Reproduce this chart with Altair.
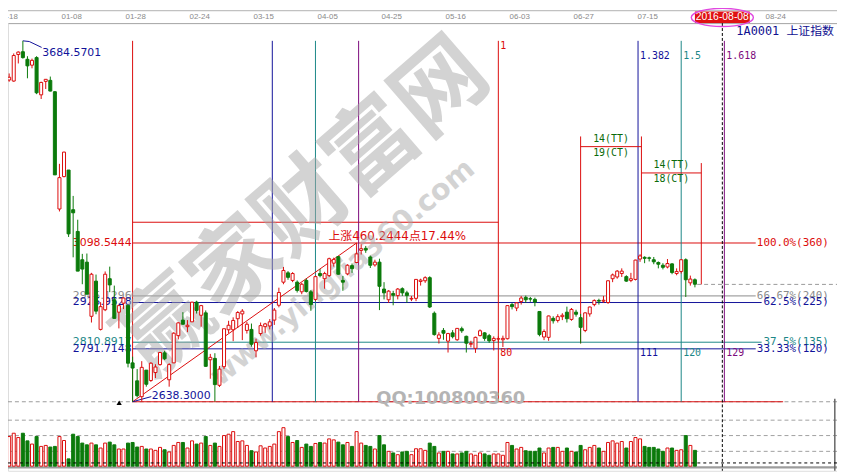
import json
import altair as alt
import pandas as pd

# ---------------- values (SSE index, daily bars) ----------------
opens = [3571, 3568, 3645, 3653, 3631, 3614, 3636, 3528, 3567, 3570,
         3537, 3197, 3291, 3310, 3195, 3132, 3050, 3043, 2886, 2988,
         2848, 2905, 2995, 2934, 2898, 2924, 2918, 2751, 2699, 2653,
         2730, 2700, 2723, 2746, 2780, 2702, 2751, 2830, 2875, 2856,
         2870, 2927, 2889, 2896, 2760, 2764, 2686, 2740, 2847, 2847,
         2879, 2893, 2845, 2848, 2786, 2836, 2856, 2858, 2875, 2918,
         2985, 3012, 2990, 2985, 2957, 2990, 2957, 2935, 3010, 2995,
         3004, 3040, 3059, 2990, 3009, 3033, 3042, 3077, 3083, 3058,
         3035, 3043, 2965, 2934, 2952, 2946, 2966, 2954, 2936, 2938,
         2987, 2989, 2998, 2895, 2822, 2845, 2814, 2838, 2818, 2850,
         2828, 2805, 2793, 2830, 2838, 2830, 2816, 2820, 2818, 2821,
         2920, 2910, 2929, 2941, 2937, 2935, 2900, 2826, 2825, 2880,
         2874, 2885, 2898, 2877, 2898, 2882, 2845, 2893, 2920, 2932,
         2930, 2926, 2995, 3000, 3010, 3001, 2990, 2993, 3052, 3057,
         3055.5, 3050, 3042, 3034, 3029, 3038, 3010, 3016, 3050, 2983,
         2992]
highs = [3590, 3648, 3654, 3684.57, 3640, 3633, 3640, 3566, 3573, 3581,
         3539, 3328, 3363, 3310, 3235, 3166, 3067, 3068, 3012, 3007,
         2927, 3016, 3030, 2975, 2917, 2941, 2918, 2769, 2733, 2756,
         2730, 2753, 2747, 2783, 2786, 2750, 2840, 2869, 2898, 2875,
         2928, 2931, 2919, 2903, 2777, 2779, 2742, 2850, 2873, 2883,
         2901, 2907, 2870, 2865, 2821, 2868, 2867, 2878, 2910, 2969,
         3029, 3017, 3014, 2990, 2983, 2995, 2962, 3004, 3023, 3015,
         3056, 3056, 3061, 3003, 3037, 3039, 3098.54, 3095, 3090, 3062,
         3050, 3053, 2985, 2962, 2960, 2968, 2970, 2960, 2945, 2993,
         2995, 3002, 3002, 2900, 2840, 2852, 2838, 2846, 2852, 2856,
         2830, 2815, 2827, 2848, 2840, 2835, 2828, 2828, 2830, 2917,
         2925, 2927, 2945, 2946, 2942, 2940, 2900, 2848, 2888, 2886,
         2892, 2895, 2914, 2910, 2905, 2893, 2897, 2914, 2935, 2937,
         2945, 2990, 3010, 3020, 3025, 3005, 3012, 3050, 3066, 3060,
         3059, 3058, 3045, 3040, 3052, 3040, 3025, 3052, 3054, 3004,
         2996]
lows = [3566, 3566, 3619, 3633, 3576, 3605, 3530, 3516, 3545, 3538,
        3296, 3190, 3289, 3116, 3057, 3017, 2979, 2950, 2868, 2892,
        2845, 2901, 2956, 2880, 2851, 2907, 2738, 2638.3, 2651, 2639,
        2682, 2696, 2707, 2743, 2759, 2682, 2751, 2819, 2862, 2840,
        2870, 2894, 2856, 2740, 2705, 2639, 2681, 2733, 2837, 2814,
        2852, 2817, 2836, 2798, 2767, 2830, 2838, 2848, 2861, 2912,
        2979, 2992, 2985, 2955, 2950, 2955, 2902, 2930, 2999, 2966,
        3000, 3030, 3007, 2960, 3005, 3012, 3040, 3065, 3070, 3026,
        3030, 2904, 2935, 2925, 2918, 2935, 2945, 2925, 2930, 2930,
        2975, 2983, 2910, 2830, 2807, 2818, 2781, 2822, 2815, 2838,
        2781, 2796, 2780, 2828, 2815, 2809, 2787, 2810, 2797, 2819,
        2906, 2901, 2920, 2925, 2928, 2915, 2828, 2817, 2815, 2865,
        2868, 2875, 2868, 2873, 2885, 2807.5, 2840, 2885, 2915, 2920,
        2925, 2922, 2985, 2995, 3000, 2986, 2985, 2990, 3044, 3040,
        3045, 3037, 3025, 3022, 3025, 3008, 3005, 3010, 2942, 2975,
        2970]
closes = [3579, 3642, 3652, 3636, 3612, 3628, 3534, 3564, 3573, 3539,
          3296, 3288, 3362, 3125, 3186, 3017, 3023, 2950, 3008, 2901,
          2914, 3008, 2977, 2880, 2917, 2939, 2750, 2736, 2656, 2738,
          2689, 2750, 2739, 2781, 2763, 2746, 2837, 2867, 2863, 2860,
          2927, 2903, 2917, 2741, 2767, 2688, 2733, 2850, 2860, 2874,
          2897, 2901, 2863, 2805, 2810, 2859, 2864, 2870, 2904, 2955,
          3019, 2999, 3010, 2961, 2979, 2958, 2920, 3001, 3004, 3010,
          3053, 3051, 3008, 2985, 3034, 3024, 3067, 3082, 3078, 3034,
          3043, 2973, 2954, 2959, 2947, 2965, 2954, 2946, 2938, 2993,
          2991, 2998, 2913, 2833, 2832, 2837, 2836, 2827, 2851, 2844,
          2808, 2807, 2825, 2844, 2822, 2815, 2822, 2821, 2822, 2917,
          2914, 2925, 2939, 2934, 2936, 2927, 2833, 2842, 2887, 2873,
          2885, 2889, 2879, 2906, 2892, 2854, 2896, 2913, 2932, 2930,
          2932.5, 2989, 3006, 3017, 3017, 2988, 2995, 3049, 3061, 3054,
          3054.3, 3044, 3037, 3028, 3039, 3013, 3016, 3050, 2992, 2994,
          2979]
volumes = [240, 267, 232, 267, 205, 179, 240, 160, 168, 155,
           160, 240, 208, 59, 259, 240, 187, 173, 187, 173,
           147, 187, 195, 173, 139, 139, 187, 192, 155, 160,
           139, 139, 128, 152, 133, 115, 168, 192, 192, 147,
           205, 179, 187, 240, 168, 187, 160, 248, 259, 280,
           200, 205, 168, 125, 115, 165, 147, 160, 179, 280,
           312, 240, 192, 208, 152, 179, 160, 184, 192, 187,
           221, 213, 195, 173, 192, 160, 280, 187, 168, 160,
           139, 248, 173, 120, 107, 93, 115, 120, 93, 141,
           141, 128, 187, 160, 107, 120, 120, 99, 99, 107,
           120, 99, 88, 107, 99, 88, 99, 99, 88, 192,
           168, 139, 152, 125, 120, 120, 147, 107, 147, 152,
           152, 120, 147, 120, 115, 168, 133, 152, 168, 147,
           120, 192, 205, 187, 200, 147, 200, 232, 221, 160,
           152, 152, 139, 120, 147, 147, 128, 133, 248, 168,
           128]

tick_bars = [0, 14, 28, 42, 56, 70, 84, 98, 112, 126, 140, 168]
tick_labels = ["12-18", "01-08", "01-28", "02-24", "03-15", "04-05",
               "04-25", "05-16", "06-03", "06-27", "07-15", "08-24"]
cursor_bar = 156
cursor_date = "2016-08-08"
title_text = "1A0001 上证指数"

peak_bar, peak = 3, 3684.5701
swing_low_bar, swing_low = 27, 2638.30
swing_high_bar, swing_high = 76, 3098.5444
rise_text = "上涨460.2444点17.44%"
box_top = 3158.7
last_price = 2978.5

fib_prices = [3098.5444, 2945.1296, 2925.9528, 2810.8917, 2791.7148]
fib_left = ["3098.5444", "2945.1296", "2925.9528", "2810.8917", "2791.7148"]
fib_right = ["100.0%(360)", "66.67%(240)", "62.5%(225)", "37.5%(135)", "33.33%(120)"]

time_base = 80
time_ratios = [0, 0.382, 0.5, 0.618, 1, 1.382, 1.5, 1.618]
time_top = ["", "", "", "", "1", "1.382", "1.5", "1.618"]
time_bottom = ["", "", "", "", "80", "111", "120", "129"]

gann_bars = [125, 138.3, 151.4]
gann_tops = [3407.4, 3407.4, 3330.2]
gann_bottoms = [2807.5, 3058, 2978.5]
gann_levels = [3377.9, 3301.6]
gann_tt = ["14(TT)", "14(TT)"]
gann_ct = ["19(CT)", "18(CT)"]

vol_grid = [373, 248, 120]
cursor_vol = 26

# ---------------- style ----------------
RED = "#dc0c0c"
GREEN = "#0b7a0b"
NAVY = "#12129a"
TEAL = "#1b8787"
PURPLE = "#7c0a7c"
GRAY = "#8c8c8c"
DKGREEN = "#0a6a0a"
WM = "#a8a8a8"

W, H, TOP = 837, 452, 13
XMIN, XMAX = -0.253, 181.08
PMIN, PMAX = 2438.2, 3736.0
VMIN, VMAX = -37.6, 3594.0

XS = alt.Scale(domain=[XMIN, XMAX], nice=False, zero=False)
PS = alt.Scale(domain=[PMIN, PMAX], nice=False, zero=False)
VS = alt.Scale(domain=[VMIN, VMAX], nice=False, zero=False)
label_expr = "%s[indexof(%s, datum.value)]" % (json.dumps(tick_labels), json.dumps(tick_bars))
AX = alt.Axis(orient="top", values=tick_bars, labelExpr=label_expr, title=None,
              ticks=False, grid=False, domainColor="#a8a8a8", domainWidth=1,
              labelFont="Liberation Sans", labelFontSize=8, labelColor="#8a8a8a",
              labelPadding=3, labelFlush=False, labelOverlap=False, labelOffset=-2)


def X(f):
    return alt.X(field=f, type="quantitative", scale=XS, axis=AX)


def YP(f):
    return alt.Y(field=f, type="quantitative", scale=PS, axis=None)


def YV(f):
    return alt.Y(field=f, type="quantitative", scale=VS, axis=None)


n = len(closes)
up = [c >= o for o, c in zip(opens, closes)]
cd = pd.DataFrame({"i": list(range(n)), "open": opens, "high": highs, "low": lows,
                   "close": closes, "vol": volumes})
cd["line"] = [RED if u else GREEN for u in up]
cd["fill"] = ["#ffffff" if u else GREEN for u in up]
cd["left"] = cd["i"] - 0.33
cd["right"] = cd["i"] + 0.33
cd["zero"] = 0.0

# ---------------- annotation segments ----------------
segs = []
end_bar = swing_low_bar + time_base
segs.append((swing_low_bar, end_bar, box_top, box_top, RED))
for p, c, e in zip(fib_prices, [RED, GRAY, NAVY, TEAL, NAVY], [163.3, 163.3, 164.6, 164.6, 163.3]):
    segs.append((swing_low_bar, e, p, p, c))
segs.append((swing_low_bar, 169.3, swing_low, swing_low, RED))
time_colors = [RED, NAVY, TEAL, PURPLE, RED, NAVY, TEAL, PURPLE]
time_x = [swing_low_bar + r * time_base for r in time_ratios]
for xb, c in zip(time_x, time_colors):
    segs.append((xb, xb, swing_low, peak, c))
segs.append((swing_low_bar, swing_high_bar, swing_low, swing_high, RED))
segs.append((peak_bar, peak_bar + 1.4, peak, peak - 2, NAVY))
segs.append((peak_bar + 1.4, peak_bar + 4.1, peak - 2, peak - 19, NAVY))
segs.append((swing_low_bar, swing_low_bar + 4.1, swing_low, swing_low + 15, NAVY))
for b, t, bt in zip(gann_bars, gann_tops, gann_bottoms):
    segs.append((b, b, bt, t, RED))
for k, lev in enumerate(gann_levels):
    segs.append((gann_bars[k], gann_bars[k + 1], lev, lev, RED))
seg_df = pd.DataFrame(segs, columns=["x1", "x2", "y1", "y2", "c"])

seg_layer = alt.Chart(seg_df).mark_rule(strokeWidth=1).encode(
    x=X("x1"), x2="x2", y=YP("y1"), y2="y2", color=alt.Color("c:N", scale=None))

dash_p = pd.DataFrame({"x1": [XMIN, cd["i"].iloc[-1] + 0.5], "x2": [XMAX, XMAX],
                       "y": [swing_low, last_price]})
dash_p_layer = alt.Chart(dash_p).mark_rule(strokeWidth=1, color="#9a9a9a", strokeDash=[4, 3]).encode(
    x=X("x1"), x2="x2", y=YP("y"))

dash_v = pd.DataFrame({"x1": [XMIN] * len(vol_grid), "x2": [XMAX] * len(vol_grid), "y": vol_grid})
dash_v_layer = alt.Chart(dash_v).mark_rule(strokeWidth=1, color="#a0a0a0", strokeDash=[4, 3]).encode(
    x=X("x1"), x2="x2", y=YV("y"))

cross_h = alt.Chart(pd.DataFrame({"x1": [XMIN], "x2": [XMAX], "y": [cursor_vol]})).mark_rule(
    strokeWidth=1, color="#000000", strokeDash=[3, 3]).encode(x=X("x1"), x2="x2", y=YV("y"))
cross_v = alt.Chart(pd.DataFrame({"x": [cursor_bar]})).mark_rule(
    strokeWidth=1, color="#000000", strokeDash=[3, 2]).encode(x=X("x"), y=alt.value(0), y2=alt.value(H))

base_line = alt.Chart(pd.DataFrame({"x1": [XMIN], "x2": [XMAX], "y": [-10]})).mark_rule(
    strokeWidth=2.5, color="#9c9c9c").encode(x=X("x1"), x2="x2", y=YV("y"))
edge_line = alt.Chart(pd.DataFrame({"x": [180.6], "y1": [546], "y2": [VMIN]})).mark_rule(
    strokeWidth=1.5, color="#666666").encode(x=X("x"), y=YV("y1"), y2="y2")
band_line = alt.Chart(pd.DataFrame({"a": [0]})).mark_rule(strokeWidth=1, color="#b0b0b0").encode(
    x=alt.value(0), x2=alt.value(W), y=alt.value(-12.5))

# ---------------- text labels ----------------
left_df = pd.DataFrame({"x": [swing_low_bar] * 5, "y": fib_prices, "t": fib_left,
                        "c": [RED, GRAY, NAVY, TEAL, NAVY]})
left_layer = alt.Chart(left_df).mark_text(align="right", baseline="middle", dx=-1,
                                          font="DejaVu Sans", fontSize=11).encode(
    x=X("x"), y=YP("y"), text="t:N", color=alt.Color("c:N", scale=None))

right_df = pd.DataFrame({"x": [179.3] * 5, "y": fib_prices, "t": fib_right,
                         "c": [RED, GRAY, NAVY, TEAL, NAVY]})
right_layer = alt.Chart(right_df).mark_text(align="right", baseline="middle",
                                            font="DejaVu Sans Mono", fontSize=11).encode(
    x=X("x"), y=YP("y"), text="t:N", color=alt.Color("c:N", scale=None))

tt_rows = []
for xb, c, t1, t2 in zip(time_x, time_colors, time_top, time_bottom):
    if t1:
        tt_rows.append((xb, 3668.4 if t1 == "1" else 3639.8, t1, c))
    if t2:
        tt_rows.append((xb, 2778.5, t2, c))
tt_df = pd.DataFrame(tt_rows, columns=["x", "y", "t", "c"])
tt_layer = alt.Chart(tt_df).mark_text(align="left", baseline="middle", dx=2,
                                      font="DejaVu Sans Mono", fontSize=10).encode(
    x=X("x"), y=YP("y"), text="t:N", color=alt.Color("c:N", scale=None))

g_rows = []
for k, lev in enumerate(gann_levels):
    xm = (gann_bars[k] + gann_bars[k + 1]) / 2
    g_rows.append((xm, lev + 22, gann_tt[k]))
    g_rows.append((xm, lev - 19, gann_ct[k]))
g_df = pd.DataFrame(g_rows, columns=["x", "y", "t"])
g_layer = alt.Chart(g_df).mark_text(align="center", baseline="middle", color=DKGREEN,
                                    font="DejaVu Sans Mono", fontSize=10).encode(
    x=X("x"), y=YP("y"), text="t:N")

misc_df = pd.DataFrame({"x": [peak_bar + 4.26, swing_low_bar + 4.2],
                        "y": [peak - 34, swing_low + 18],
                        "t": ["%.4f" % peak, "%.4f" % swing_low]})
misc_layer = alt.Chart(misc_df).mark_text(align="left", baseline="middle", color=NAVY,
                                          font="DejaVu Sans", fontSize=11).encode(
    x=X("x"), y=YP("y"), text="t:N")

rise_layer = alt.Chart(pd.DataFrame({"x": [69.85], "y": [swing_high + 20], "t": [rise_text]})).mark_text(
    align="left", baseline="middle", color=RED, font="DejaVu Sans, Noto Sans CJK SC", fontSize=12).encode(
    x=X("x"), y=YP("y"), text="t:N")

title_layer = alt.Chart(pd.DataFrame({"x": [180.4], "y": [3712.4], "t": [title_text]})).mark_text(
    align="right", baseline="middle", color="#101090", font="DejaVu Sans Mono, Noto Sans CJK SC",
    fontSize=12).encode(x=X("x"), y=YP("y"), text="t:N")

tri_layer = alt.Chart(pd.DataFrame({"x": [24.06], "y": [2635.5]})).mark_point(
    shape="triangle-up", filled=True, color="#000000", size=28, opacity=1).encode(x=X("x"), y=YP("y"))

# ---------------- watermark ----------------
wm_df = pd.DataFrame({"x": [64.55], "y": [3198.7], "t": ["赢家财富网"]})
wm_big = alt.Chart(wm_df).mark_text(angle=319, align="center", baseline="middle", color=WM,
                                    opacity=0.5, font="Noto Sans CJK SC", fontWeight="bold",
                                    fontSize=92).encode(x=X("x"), y=YP("y"), text="t:N")
url_df = pd.DataFrame({"x": [72.9], "y": [3012.9], "t": ["www.yingjia360.com"]})
wm_url = alt.Chart(url_df).mark_text(angle=320, align="center", baseline="middle", color=WM,
                                     opacity=0.5, font="DejaVu Sans", fontWeight="bold",
                                     fontSize=29).encode(x=X("x"), y=YP("y"), text="t:N")
qq_df = pd.DataFrame({"x": [96.6], "y": [2646.9], "t": ["QQ:100800360"]})
wm_qq = alt.Chart(qq_df).mark_text(align="center", baseline="middle", color="#b4b4b4",
                                   font="DejaVu Sans", fontWeight="bold",
                                   fontSize=18).encode(x=X("x"), y=YP("y"), text="t:N")

# ---------------- candles & volume ----------------
wick = alt.Chart(cd).mark_rule(strokeWidth=1).encode(
    x=X("i"), y=YP("low"), y2="high", color=alt.Color("line:N", scale=None))
body = alt.Chart(cd).mark_rect(strokeWidth=1).encode(
    x=X("left"), x2="right", y=YP("open"), y2="close",
    fill=alt.Fill("fill:N", scale=None), stroke=alt.Stroke("line:N", scale=None))
vol = alt.Chart(cd).mark_rect(strokeWidth=1).encode(
    x=X("left"), x2="right", y=YV("vol"), y2="zero",
    fill=alt.Fill("fill:N", scale=None), stroke=alt.Stroke("line:N", scale=None))

# ---------------- cursor date tag ----------------
tag_df = pd.DataFrame({"x": [cursor_bar], "x1": [cursor_bar - 6], "x2": [cursor_bar + 6], "t": [cursor_date]})
tag_box = alt.Chart(tag_df).mark_rect(color="#e01212").encode(
    x=X("x1"), x2="x2", y=alt.value(-11.7), y2=alt.value(-0.1))
tag_text = alt.Chart(tag_df).mark_text(align="center", baseline="middle", color="#ffffff",
                                       font="Liberation Sans", fontSize=10.5).encode(
    x=X("x"), y=alt.value(-6), text="t:N")
ellipse = ("M -1 0 C -1 -0.1618 -0.5523 -0.293 0 -0.293 C 0.5523 -0.293 1 -0.1618 1 0 "
           "C 1 0.1618 0.5523 0.293 0 0.293 C -0.5523 0.293 -1 0.1618 -1 0 Z")
tag_ring = alt.Chart(tag_df).mark_point(shape=ellipse, size=3931, filled=False,
                                        stroke="#e048e0", strokeWidth=1.4, opacity=1).encode(
    x=X("x"), y=alt.value(-5.7))

chart = alt.layer(
    dash_v_layer, dash_p_layer, base_line, edge_line, band_line,
    seg_layer, left_layer, right_layer, tt_layer, g_layer, misc_layer, rise_layer,
    wm_big, wm_url, wm_qq,
    wick, body, vol, cross_h, cross_v, tri_layer, title_layer,
    tag_box, tag_text, tag_ring,
).resolve_scale(y="independent").properties(
    width=W, height=H,
    autosize=alt.AutoSizeParams(type="none"),
    padding={"top": TOP, "left": 0, "right": 0, "bottom": 0},
).configure_view(strokeWidth=0).configure(background="#ffffff")

chart.save("out.html", embed_options={"renderer": "svg", "actions": False})
